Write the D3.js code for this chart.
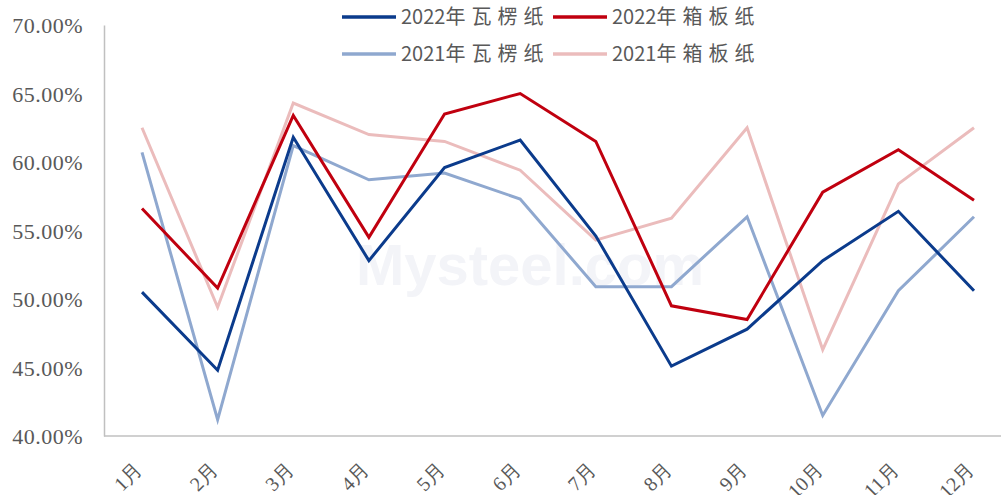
<!DOCTYPE html>
<html>
<head>
<meta charset="utf-8">
<script src="https://cdn.jsdelivr.net/npm/d3@7"></script>
<style>
  body { margin: 0; background: #fff; }
  svg { display: block; }
</style>
</head>
<body>
<div class="chart"></div>
<script>
// months on the x axis
const months = ['1月', '2月', '3月', '4月', '5月', '6月', '7月', '8月', '9月', '10月', '11月', '12月'];

// values (%)
const wl2022 = [50.5, 44.8, 61.8, 52.8, 59.6, 61.6, 54.6, 45.1, 47.8, 52.8, 56.4, 50.6];
const xb2022 = [56.6, 50.8, 63.4, 54.5, 63.5, 65.0, 61.5, 49.5, 48.5, 57.8, 60.9, 57.2];
const wl2021 = [60.7, 41.2, 61.2, 58.7, 59.2, 57.3, 50.9, 50.9, 56.0, 41.5, 50.6, 56.0];
const xb2021 = [62.5, 49.4, 64.3, 62.0, 61.5, 59.4, 54.3, 55.9, 62.5, 46.3, 58.4, 62.5];

const seriesNames = ['2022年瓦楞纸', '2022年箱板纸', '2021年瓦楞纸', '2021年箱板纸'];
const yTicks = [40, 45, 50, 55, 60, 65, 70];

const width = 1001;
const height = 495;
const margin = { top: 25, right: 0, bottom: 59, left: 104 };

const series = [
  { name: seriesNames[2], values: wl2021, color: '#8fa8cf' },
  { name: seriesNames[3], values: xb2021, color: '#ebbcbc' },
  { name: seriesNames[1], values: xb2022, color: '#c0000f' },
  { name: seriesNames[0], values: wl2022, color: '#0b3b8c' }
];

const svg = d3.select('.chart')
  .append('svg')
  .attr('width', width)
  .attr('height', height);

// faint watermark
svg.append('text')
  .attr('x', 530)
  .attr('y', 285)
  .attr('text-anchor', 'middle')
  .attr('font-family', 'Arial, Liberation Sans, sans-serif')
  .attr('font-weight', 'bold')
  .attr('font-size', 58)
  .attr('fill', '#f3f4f8')
  .text('Mysteel.com');

const x = d3.scalePoint()
  .domain(months)
  .range([142, 974]);

const y = d3.scaleLinear()
  .domain([40, 70])
  .range([height - margin.bottom, margin.top]);

// y axis
const yAxis = svg.append('g')
  .attr('transform', `translate(${margin.left},0)`)
  .call(d3.axisLeft(y).tickValues(yTicks).tickSize(0).tickPadding(21).tickFormat(d => d.toFixed(2) + '%'));
yAxis.select('.domain').attr('stroke', '#c0c0c0').attr('stroke-width', 1.5);
yAxis.selectAll('text')
  .attr('font-family', 'Liberation Serif, Times New Roman, serif')
  .attr('font-size', 22)
  .attr('letter-spacing', 0.5)
  .attr('fill', '#595959')
  .attr('dy', '0.35em');

// x axis
const xAxis = svg.append('g')
  .attr('transform', `translate(0,${height - margin.bottom})`)
  .call(d3.axisBottom(x).tickSize(0).tickPadding(0));
xAxis.select('.domain')
  .attr('d', `M${margin.left},0H${width}`)
  .attr('stroke', '#c0c0c0').attr('stroke-width', 1.5);
xAxis.selectAll('text')
  .attr('font-family', 'Liberation Serif, Times New Roman, serif')
  .attr('font-size', 20)
  .attr('fill', '#595959')
  .attr('text-anchor', 'end')
  .attr('dy', 0)
  .attr('transform', 'translate(1,35) rotate(-45)');

const line = d3.line()
  .x((d, i) => x(months[i]))
  .y(d => y(d));

svg.selectAll('.series')
  .data(series)
  .enter()
  .append('path')
  .attr('class', 'series')
  .attr('fill', 'none')
  .attr('stroke', d => d.color)
  .attr('stroke-width', 3)
  .attr('stroke-linejoin', 'miter')
  .attr('d', d => line(d.values));

// legend
const legendItems = [
  { name: seriesNames[0], color: '#0b3b8c', x: 342, y: 17 },
  { name: seriesNames[1], color: '#c0000f', x: 553, y: 17 },
  { name: seriesNames[2], color: '#8fa8cf', x: 342, y: 54 },
  { name: seriesNames[3], color: '#ebbcbc', x: 553, y: 54 }
];

const legend = svg.selectAll('.legend')
  .data(legendItems)
  .enter()
  .append('g')
  .attr('class', 'legend')
  .attr('transform', d => `translate(${d.x},${d.y})`);

legend.append('line')
  .attr('x1', 0).attr('x2', 54)
  .attr('stroke', d => d.color)
  .attr('stroke-width', 3.5);

const lt = legend.append('text')
  .attr('x', 59)
  .attr('dy', '0.36em')
  .attr('font-family', 'Noto Sans CJK SC, sans-serif')
  .attr('font-size', 20)
  .attr('fill', '#595959');
lt.append('tspan').text(d => d.name.slice(0, 4));
lt.append('tspan').attr('letter-spacing', 6).text(d => d.name.slice(4));
</script>
</body>
</html>
